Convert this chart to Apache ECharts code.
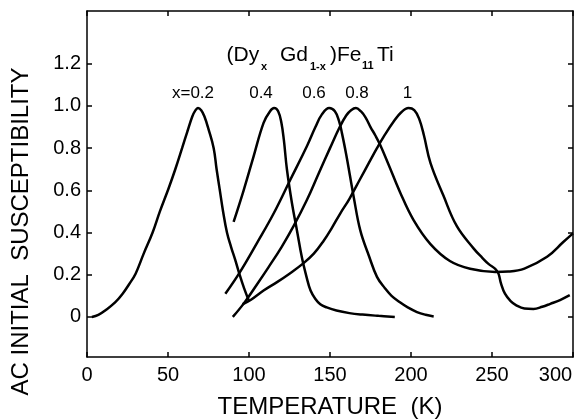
<!DOCTYPE html>
<html>
<head>
<meta charset="utf-8">
<script src="https://cdn.jsdelivr.net/npm/echarts/dist/echarts.min.js"></script>
<style>
  html, body { margin: 0; padding: 0; background: #fff; }
  #chart { width: 574px; height: 419px; }
</style>
</head>
<body>
<div id="chart"></div>
<script>
// susceptibility curves, [temperature (K), chi normalised]
var curveX02 = [[3,0],[7,0.01],[12,0.035],[17.5,0.07],[22,0.11],[26,0.155],[30,0.205],[35,0.3],[40.5,0.4],[45,0.5],[50.4,0.61],[54.5,0.7],[58.7,0.8],[62,0.88],[65,0.95],[67,0.98],[68.5,0.99],[70.5,0.98],[72.5,0.95],[75,0.89],[78.2,0.8],[80,0.7],[82,0.6],[84,0.5],[86.4,0.4],[89,0.33],[91.5,0.27],[94.2,0.2],[97,0.135],[100,0.075]];
var curveX04 = [[90.5,0.45],[96.7,0.6],[102.8,0.76],[109,0.92],[113,0.975],[115.5,0.99],[118,0.975],[120,0.92],[121.5,0.84],[123.4,0.7],[126.5,0.54],[129.6,0.41],[132.7,0.28],[135.5,0.19],[138,0.125],[141,0.085],[144,0.06],[148,0.045],[154,0.03],[162,0.018],[170,0.011],[180,0.005],[190,0]];
var curveX06 = [[85.4,0.11],[94.6,0.215],[104.9,0.35],[115.2,0.49],[125.5,0.65],[135.8,0.81],[141,0.9],[145,0.96],[149.5,0.99],[153,0.975],[155.5,0.93],[157.4,0.87],[160,0.77],[162.3,0.67],[164.6,0.57],[168.7,0.41],[174,0.29],[179,0.19],[184,0.135],[188,0.1],[193.4,0.068],[198,0.045],[203.7,0.023],[209,0.01],[214,0.002]];
var curveX08 = [[90,0],[96.7,0.063],[105,0.155],[112,0.235],[120,0.33],[127.5,0.43],[135.8,0.555],[143,0.68],[150,0.8],[156,0.9],[160,0.955],[163,0.98],[166,0.99],[169,0.975],[172,0.945],[175,0.9],[178,0.86],[181,0.815],[186,0.725],[193.3,0.59],[201.5,0.46],[212,0.345],[224,0.265],[236.5,0.228],[252,0.213],[260,0.215],[270,0.229],[284,0.285],[294,0.355],[300,0.396]];
var curveX10 = [[96,0.06],[101,0.08],[109,0.125],[117.3,0.165],[125,0.205],[133.7,0.255],[140,0.3],[146,0.36],[151,0.42],[156.3,0.49],[162,0.56],[168.7,0.655],[174,0.73],[179,0.8],[184,0.865],[189.2,0.925],[194,0.97],[198.5,0.99],[202,0.98],[205,0.94],[208,0.86],[212,0.73],[220,0.575],[228.3,0.43],[238.6,0.325],[244,0.28],[248,0.25],[252,0.228],[254,0.205],[255.5,0.16],[258,0.11],[261.5,0.075],[265,0.055],[270,0.04],[275.6,0.038],[281,0.048],[286,0.062],[292,0.08],[298,0.103]];

var curves = [curveX02, curveX04, curveX06, curveX08, curveX10];
var curveNames = ['x=0.2', '0.4', '0.6', '0.8', '1'];
var yTickValues = [0, 0.2, 0.4, 0.6, 0.8, 1.0, 1.2];

var black = '#000';
var fontFam = '"Liberation Sans", Arial, sans-serif';

var axisLine = { show: true, onZero: false, lineStyle: { color: black, width: 1.5 } };
var tick = { show: true, inside: true, length: 5, lineStyle: { color: black, width: 1.5 } };

var myChart = echarts.init(document.getElementById('chart'), null, { renderer: 'canvas' });

var series = curves.map(function (c, i) {
    return {
        name: curveNames[i],
        type: 'line',
        data: c,
        smooth: 0.4,
        showSymbol: false,
        lineStyle: { color: black, width: 2.5 }
    };
});

// composition labels above the peaks + formula, as plain text
function txt(s, x, y, font, align) {
    return {
        type: 'text', x: x, y: y, silent: true,
        style: { text: s, font: font, fill: black, align: align || 'left', verticalAlign: 'middle',
                 textAlign: align || 'left', textVerticalAlign: 'middle' }
    };
}
var big = '21px ' + fontFam;
var sub = 'bold 11px ' + fontFam;
var lab = '17px ' + fontFam;

myChart.setOption({
    animation: false,
    backgroundColor: '#fff',
    // keep the plot box fixed, don't let v6 shrink it to fit the labels
    grid: { left: 87, right: 1, top: 11, bottom: 62, containLabel: false, outerBoundsMode: 'none' },
    xAxis: [
        {
            type: 'value', min: 0, max: 300, interval: 50, position: 'bottom',
            axisLine: axisLine, axisTick: tick, splitLine: { show: false },
            axisLabel: {
                color: black, fontSize: 20, fontFamily: fontFam, margin: 8, showMaxLabel: true,
                formatter: function (v) { return v === 300 ? '{last|300}' : String(v); },
                rich: { last: { fontSize: 20, fontFamily: fontFam, color: black, padding: [0, 35, 0, 0] } }
            },
            name: 'TEMPERATURE  (K)', nameLocation: 'middle', nameGap: 38,
            nameTextStyle: { color: black, fontSize: 24, fontFamily: fontFam }
        },
        {
            type: 'value', min: 0, max: 300, interval: 50, position: 'top',
            axisLine: axisLine, axisTick: tick, axisLabel: { show: false }, splitLine: { show: false }
        }
    ],
    yAxis: [
        {
            type: 'value', min: -0.19, max: 1.45, position: 'left',
            axisLine: axisLine,
            axisTick: Object.assign({ customValues: yTickValues }, tick),
            splitLine: { show: false },
            axisLabel: {
                customValues: yTickValues, color: black, fontSize: 20, fontFamily: fontFam, margin: 6,
                formatter: function (v) { return v === 0 ? '0' : v.toFixed(1); }
            },
            name: 'AC INITIAL  SUSCEPTIBILITY', nameLocation: 'middle', nameGap: 54,
            nameTextStyle: { color: black, fontSize: 24, fontFamily: fontFam, padding: [0, 95, 0, 0] }
        },
        {
            type: 'value', min: -0.19, max: 1.45, position: 'right',
            axisLine: axisLine,
            axisTick: Object.assign({ customValues: yTickValues }, tick),
            axisLabel: { show: false }, splitLine: { show: false }
        }
    ],
    graphic: [
        txt('(Dy', 226.5, 55, big),
        txt('x', 261, 67, sub),
        txt('Gd', 280, 55, big),
        txt('1-x', 310, 67, sub),
        txt(')Fe', 330, 55, big),
        txt('11', 362, 66, sub),
        txt('Ti', 377, 55, big),
        txt(curveNames[0], 193, 93, lab, 'center'),
        txt(curveNames[1], 261, 93, lab, 'center'),
        txt(curveNames[2], 314, 93, lab, 'center'),
        txt(curveNames[3], 357, 93, lab, 'center'),
        txt(curveNames[4], 407.5, 93, lab, 'center')
    ],
    series: series
});
</script>
</body>
</html>
